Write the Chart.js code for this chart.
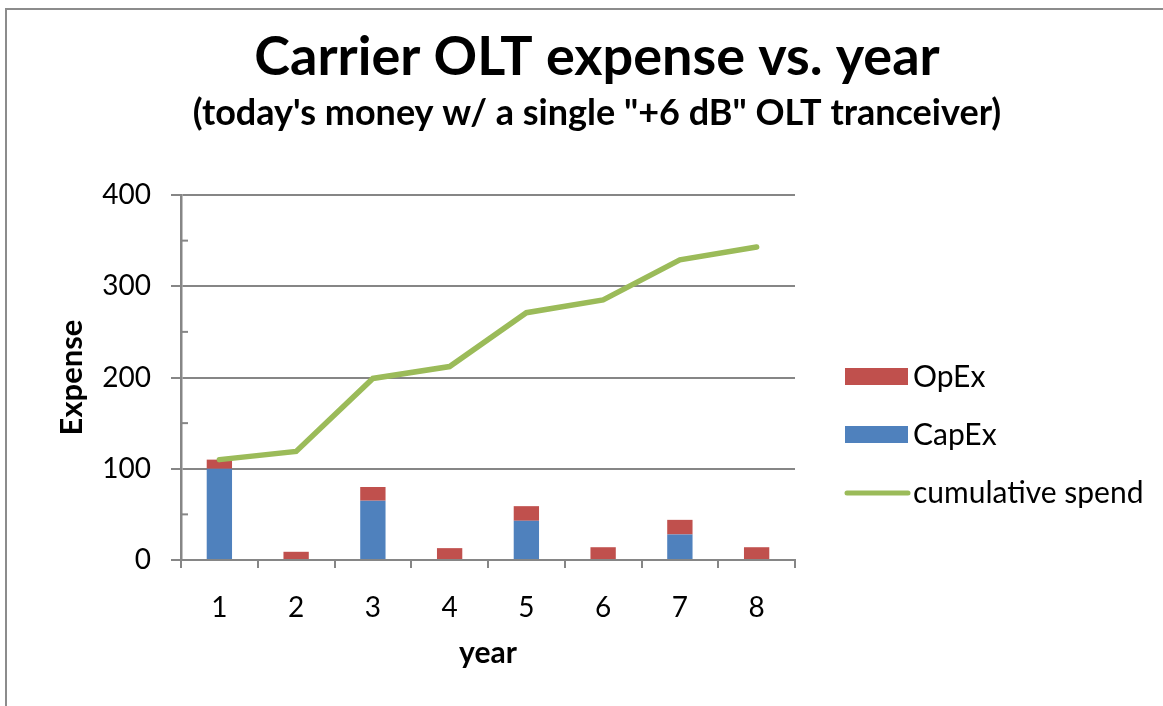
<!DOCTYPE html>
<html>
<head>
<meta charset="utf-8">
<script src="https://cdn.jsdelivr.net/npm/chart.js@4.4.1/dist/chart.umd.min.js"></script>
<style>
  html, body { margin: 0; padding: 0; background: #fff; }
  #wrap { position: relative; width: 1163px; height: 706px; overflow: hidden; }
  #frame { position: absolute; left: 5px; top: 8px; width: 1300px; height: 900px; border: 2px solid #8c8c8c; }
  #c { position: absolute; left: 0; top: 0; }
</style>
</head>
<body>
<div id="wrap">
  <div id="frame"></div>
  <canvas id="c" width="1163" height="706"></canvas>
</div>
<script>
const years = ['1', '2', '3', '4', '5', '6', '7', '8'];
const capex = [100, 0, 65, 0, 43, 0, 28, 0];
const opex = [10, 9, 15, 13, 16, 14, 16, 14];
const cumulative = [110, 119, 199, 212, 271, 285, 329, 343];
const yTicks = [0, 100, 200, 300, 400];

const FONT = 'Lato, "Open Sans", sans-serif';
const GREY = '#868686';

// minor ticks on y axis and the legend on the right
const extras = {
  id: 'extras',
  afterDraw(chart) {
    const ctx = chart.ctx;
    const y = chart.scales.y;
    const area = chart.chartArea;
    ctx.save();
    ctx.strokeStyle = GREY;
    ctx.lineWidth = 2;
    for (let i = 0; i < yTicks.length - 1; i++) {
      const py = y.getPixelForValue((yTicks[i] + yTicks[i + 1]) / 2);
      ctx.beginPath();
      ctx.moveTo(area.left, py);
      ctx.lineTo(area.left + 7, py);
      ctx.stroke();
    }

    const items = [
      { text: 'OpEx', color: chart.data.datasets[1].backgroundColor, type: 'box' },
      { text: 'CapEx', color: chart.data.datasets[2].backgroundColor, type: 'box' },
      { text: 'cumulative spend', color: chart.data.datasets[0].borderColor, type: 'line' }
    ];
    const lx = area.right + 50;
    ctx.font = '30px ' + FONT;
    ctx.textBaseline = 'middle';
    items.forEach((it, i) => {
      const cy = 377 + i * 58;
      if (it.type === 'box') {
        ctx.fillStyle = it.color;
        ctx.fillRect(lx, cy - 9, 63, 17);
      } else {
        ctx.strokeStyle = it.color;
        ctx.lineWidth = 5;
        ctx.lineCap = 'round';
        ctx.beginPath();
        ctx.moveTo(lx + 2, cy);
        ctx.lineTo(lx + 63, cy);
        ctx.stroke();
      }
      ctx.fillStyle = '#000';
      ctx.fillText(it.text, lx + 68, cy);
    });
    ctx.restore();
  }
};

new Chart(document.getElementById('c').getContext('2d'), {
  type: 'bar',
  data: {
    labels: years,
    datasets: [
      {
        type: 'line',
        label: 'cumulative spend',
        data: cumulative,
        borderColor: '#9BBB59',
        borderWidth: 5.5,
        borderCapStyle: 'round',
        pointRadius: 0,
        tension: 0,
        stack: 'line',
        order: 0
      },
      {
        label: 'OpEx',
        data: opex,
        backgroundColor: '#C0504D',
        stack: 'bars',
        order: 2,
        barPercentage: 0.33,
        categoryPercentage: 1
      },
      {
        label: 'CapEx',
        data: capex,
        backgroundColor: '#4F81BD',
        stack: 'bars',
        order: 1,
        barPercentage: 0.33,
        categoryPercentage: 1
      }
    ]
  },
  options: {
    responsive: false,
    animation: false,
    layout: { padding: { left: 31, right: 0, top: 0, bottom: 0 } },
    plugins: {
      legend: { display: false },
      tooltip: { enabled: false },
      title: {
        display: true,
        text: 'Carrier OLT expense vs. year',
        color: '#000',
        font: { family: FONT, size: 54, weight: 'bold' },
        padding: { top: 25, bottom: 0 }
      },
      subtitle: {
        display: true,
        text: '(today\'s money w/ a single "+6 dB" OLT tranceiver)',
        color: '#000',
        font: { family: FONT, size: 36, weight: 'bold' },
        padding: { top: 2, bottom: 60 }
      }
    },
    scales: {
      x: {
        stacked: true,
        grid: { drawOnChartArea: false, drawTicks: true, tickLength: 8, color: GREY, lineWidth: 2, offset: true },
        border: { color: GREY, width: 2 },
        ticks: { color: '#000', font: { family: FONT, size: 28 }, padding: 23 },
        title: {
          display: true, text: 'year', color: '#000',
          font: { family: FONT, size: 30, weight: 'bold' },
          padding: { top: 0, bottom: 35 }
        },
        afterFit(s) { s.height = 146; }
      },
      y: {
        stacked: true,
        min: 0,
        max: 400,
        afterBuildTicks(s) { s.ticks = yTicks.map(v => ({ value: v })); },
        grid: { color: GREY, lineWidth: 2, tickLength: 10 },
        border: { color: GREY, width: 2.5 },
        ticks: { color: '#000', font: { family: FONT, size: 28 }, padding: 20 },
        title: {
          display: true, text: 'Expense', color: '#000',
          font: { family: FONT, size: 31, weight: 'bold' },
          padding: { top: 22, bottom: 0 }
        },
        afterFit(s) { s.width = 150; }
      },
      pad: {
        type: 'linear',
        position: 'right',
        display: true,
        grid: { display: false },
        border: { display: false },
        ticks: { display: false },
        afterFit(s) { s.width = 368; }
      }
    }
  },
  plugins: [extras]
});
</script>
</body>
</html>
